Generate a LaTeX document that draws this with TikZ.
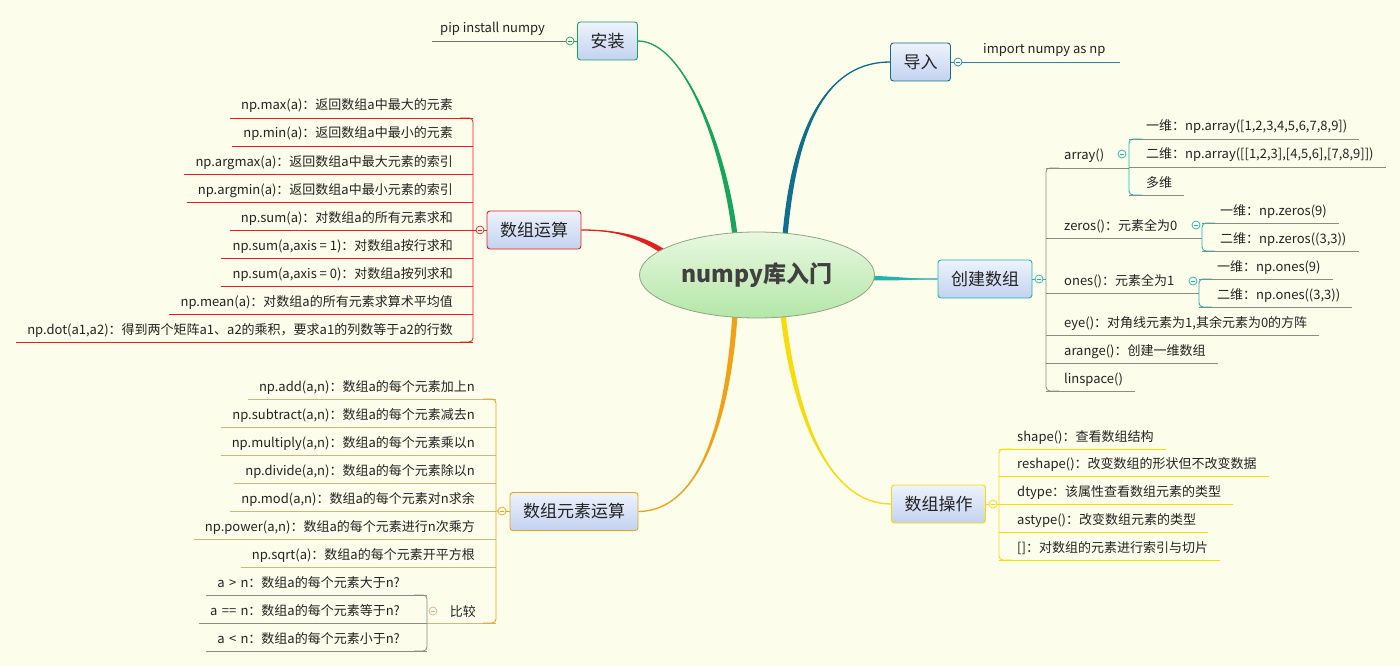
\documentclass[tikz,border=0pt]{standalone}
\usepackage{fontspec}
\setmainfont{Noto Sans CJK SC}
\usetikzlibrary{shapes.geometric,calc}
\definecolor{bg}{RGB}{253,253,235}
\definecolor{boxtop}{RGB}{238,243,252}
\definecolor{boxbot}{RGB}{194,210,240}
\definecolor{txt}{RGB}{35,35,35}
\definecolor{greenc}{RGB}{22,165,90}
\definecolor{tealblue}{RGB}{16,112,140}
\definecolor{impc}{RGB}{30,140,180}
\definecolor{redc}{RGB}{230,30,30}
\definecolor{orangec}{RGB}{242,160,20}
\definecolor{orlc}{RGB}{215,180,120}
\definecolor{tealc}{RGB}{30,180,175}
\definecolor{yellowc}{RGB}{248,220,10}
\definecolor{grayc}{RGB}{140,140,130}
\definecolor{elltop}{RGB}{232,248,224}
\definecolor{ellbot}{RGB}{180,230,168}
\definecolor{elldraw}{RGB}{140,165,130}
\definecolor{centtxt}{RGB}{64,64,64}
\tikzset{
  itemtext/.style={font=\fontsize{13}{15}\selectfont, text=txt, inner ysep=0pt},
  topic/.style={draw=#1, rounded corners=3pt, top color=boxtop, bottom color=boxbot,
    line width=0.9pt, minimum height=38pt, inner xsep=13pt, inner ysep=0pt,
    font=\fontsize{17}{20}\selectfont, text=txt},
  tog/.style={circle, draw=#1, fill=bg, minimum size=8pt, inner sep=0pt, line width=0.7pt,
    path picture={\draw[#1,line width=0.7pt] ($(path picture bounding box.center)+(-2.2,0)$) -- ($(path picture bounding box.center)+(2.2,0)$);}},
  redl/.style={draw=redc, line width=0.8pt},
  orl/.style={draw=orlc, line width=0.8pt},
  orv/.style={draw=orangec, line width=0.9pt},
  grl/.style={draw=grayc, line width=0.8pt},
  tealv/.style={draw=tealc, line width=0.9pt},
  yel/.style={draw=yellowc, line width=0.9pt},
  impl/.style={draw=impc, line width=0.9pt},
}
% left item: name, text right x, line y, bracket x, line style, text
\newcommand\Litem[6]{%
  \node[itemtext,anchor=base east,inner xsep=11pt] (#1) at (#2+11,#3-8) {#6};
  \coordinate (tmp) at (0,#3);
  \draw[#5] (#1.west |- tmp) -- (#4,#3);
}
% right item: name, text left x, line y, bracket x, line style, text
\newcommand\Ritem[6]{%
  \node[itemtext,anchor=base west,inner xsep=12pt] (#1) at (#2-12,#3-8) {#6};
  \coordinate (tmp) at (0,#3);
  \draw[#5] (#4,#3) -- (#1.east |- tmp);
}
% parent item: name, text left x, line y, bracket x, line style, end x, text
\newcommand\Pitem[7]{%
  \node[itemtext,anchor=base west,inner xsep=12pt] (#1) at (#2-12,#3-8) {#7};
  \draw[#5] (#4,#3) -- (#6,#3);
}
\newcommand\taper[6]{%
  \fill[#1] ($(#2)+(#6)$) .. controls ($(#3)+(#6)$) and (#4) .. (#5)
     .. controls (#4) and ($(#3)-(#6)$) .. ($(#2)-(#6)$) -- cycle;
  \draw[#1,line width=1.3pt] (#2) .. controls (#3) and (#4) .. (#5);
}
\begin{document}
\begin{tikzpicture}[x=1pt,y=-1pt]
\fill[bg] (0,0) rectangle (1400,666);
\useasboundingbox (0,0) rectangle (1400,666);

% topic boxes
\node[topic=greenc] (az) at (607.5,41) {安装};
\node[topic=tealblue] (dr) at (920.5,62) {导入};
\node[topic=redc] (ys) at (534,230) {数组运算};
\node[topic=orangec] (yu) at (574,511.5) {数组元素运算};
\node[topic=tealc] (cj) at (985,279) {创建数组};
\node[topic=yellowc] (cz) at (938.5,504) {数组操作};

% connectors from the centre
\coordinate (r1) at (735,236);
\coordinate (r2) at (785,236);
\coordinate (r3) at (664,252);
\coordinate (r4) at (872,278);
\coordinate (r5) at (735,314);
\coordinate (r6) at (783,314);
\taper{greenc}{r1}{725,150}{685,41}{az.east}{2.6,0}
\taper{tealblue}{r2}{795,120}{830,62}{dr.west}{2.6,0}
\taper{redc}{r3}{640,236}{615,230}{ys.east}{1.4,-2.1}
\taper{tealc}{r4}{900,279}{915,279}{cj.west}{0,2.2}
\taper{orangec}{r5}{728,420}{700,511}{yu.east}{2.6,0}
\taper{yellowc}{r6}{795,420}{830,504}{cz.west}{2.6,0}

% centre
\node[ellipse, minimum width=235pt, minimum height=86pt, inner sep=0pt, draw=elldraw,
  line width=0.8pt, top color=elltop, bottom color=ellbot, text=centtxt,
  font=\fontsize{23}{27}\selectfont\bfseries] (c) at (757,275) {numpy库入门};

% 安装
\node[itemtext,anchor=base west,inner xsep=0pt] (pip) at (440,33) {pip install numpy};
\coordinate (pipend) at (432,41);
\draw[grl,draw={rgb,255:red,110;green,115;blue,110}] (pipend) -- (az.west);
\node[tog=greenc] (t0) at (570,41) {};

% 导入
\node[itemtext,anchor=base west,inner xsep=0pt] (imp) at (983,54) {import numpy as np};
\coordinate (impend) at (1120,62);
\draw[impl] (dr.east) -- (impend);
\node[tog=impc] (t00) at (958,62) {};

% 数组运算
\Litem{m1}{453}{118}{473}{redl}{np.max(a)：返回数组a中最大的元素}
\Litem{m2}{453}{146}{473}{redl}{np.min(a)：返回数组a中最小的元素}
\Litem{m3}{453}{174}{473}{redl}{np.argmax(a)：返回数组a中最大元素的索引}
\Litem{m4}{453}{202}{473}{redl}{np.argmin(a)：返回数组a中最小元素的索引}
\Litem{m5}{453}{230}{473}{redl}{np.sum(a)：对数组a的所有元素求和}
\Litem{m6}{453}{258}{473}{redl}{np.sum(a,axis = 1)：对数组a按行求和}
\Litem{m7}{453}{286}{473}{redl}{np.sum(a,axis = 0)：对数组a按列求和}
\Litem{m8}{453}{314}{473}{redl}{np.mean(a)：对数组a的所有元素求算术平均值}
\Litem{m9}{453}{342}{473}{redl}{np.dot(a1,a2)：得到两个矩阵a1、a2的乘积，要求a1的列数等于a2的行数}
\draw[redl,rounded corners=4pt] (460,118) -- (473,118) -- (473,342) -- (460,342);
\coordinate (ysb) at (473,230);
\draw[redl] (ys.west) -- (ysb);
\node[tog=redc] (t1) at (480,230) {};

% 数组元素运算
\Litem{e1}{475}{399}{496}{orl}{np.add(a,n)：数组a的每个元素加上n}
\Litem{e2}{475}{427}{496}{orl}{np.subtract(a,n)：数组a的每个元素减去n}
\Litem{e3}{475}{455}{496}{orl}{np.multiply(a,n)：数组a的每个元素乘以n}
\Litem{e4}{475}{483}{496}{orl}{np.divide(a,n)：数组a的每个元素除以n}
\Litem{e5}{475}{511}{496}{orl}{np.mod(a,n)：数组a的每个元素对n求余}
\Litem{e6}{475}{539}{496}{orl}{np.power(a,n)：数组a的每个元素进行n次乘方}
\Litem{e7}{475}{567}{496}{orl}{np.sqrt(a)：数组a的每个元素开平方根}
\node[itemtext,anchor=base east,inner xsep=0pt] (bj) at (476,616) {比较};
\draw[orl] (427,623) -- (496,623);
\draw[orv,rounded corners=4pt] (483,399) -- (496,399) -- (496,623) -- (483,623);
\Litem{c1}{400}{595}{427}{grl}{a\,\,>\,\,n：数组a的每个元素大于n?}
\Litem{c2}{400}{623}{427}{grl}{a\,\,==\,\,n：数组a的每个元素等于n?}
\Litem{c3}{400}{651}{427}{grl}{a\,\,<\,\,n：数组a的每个元素小于n?}
\draw[grl,rounded corners=4pt] (414,595) -- (427,595) -- (427,651) -- (414,651);
\node[tog=orlc] (t2) at (433,611) {};
\coordinate (yub) at (496,511);
\draw[orv] (yu.west) -- (yub);
\node[tog=orangec] (t3) at (502,511) {};

% 创建数组
\Pitem{k1}{1064}{168}{1046}{grl}{1129}{array()}
\Pitem{k2}{1064}{238}{1046}{grl}{1202}{zeros()：元素全为0}
\Pitem{k3}{1064}{293}{1046}{grl}{1199}{ones()：元素全为1}
\Ritem{k4}{1064}{335}{1046}{grl}{eye()：对角线元素为1,其余元素为0的方阵}
\Ritem{k5}{1064}{363}{1046}{grl}{arange()：创建一维数组}
\Ritem{k6}{1064}{391}{1046}{grl}{linspace()}
\draw[grl,rounded corners=4pt] (1059,168) -- (1046,168) -- (1046,391) -- (1059,391);
\Ritem{a1}{1146}{139}{1129}{grl}{一维：np.array([1,2,3,4,5,6,7,8,9])}
\Ritem{a2}{1146}{167}{1129}{grl}{二维：np.array([[1,2,3],[4,5,6],[7,8,9]])}
\Ritem{a3}{1146}{195}{1129}{grl}{多维}
\draw[tealv,rounded corners=4pt] (1142,139) -- (1129,139) -- (1129,195) -- (1142,195);
\Ritem{z1}{1220}{223}{1202}{grl}{一维：np.zeros(9)}
\Ritem{z2}{1220}{251}{1202}{grl}{二维：np.zeros((3,3))}
\draw[tealv,rounded corners=4pt] (1215,223) -- (1202,223) -- (1202,251) -- (1215,251);
\Ritem{o1}{1217}{279}{1199}{grl}{一维：np.ones(9)}
\Ritem{o2}{1217}{307}{1199}{grl}{二维：np.ones((3,3))}
\draw[tealv,rounded corners=4pt] (1212,279) -- (1199,279) -- (1199,307) -- (1212,307);
\node[tog=tealc] (t4) at (1122,154) {};
\node[tog=tealc] (t5) at (1196,225) {};
\node[tog=tealc] (t6) at (1193,281) {};
\coordinate (cjb) at (1046,279);
\draw[tealv] (cj.east) -- (cjb);
\node[tog=tealc] (t7) at (1039,279) {};

% 数组操作
\Ritem{s1}{1017}{449}{999}{yel}{shape()：查看数组结构}
\Ritem{s2}{1017}{476}{999}{yel}{reshape()：改变数组的形状但不改变数据}
\Ritem{s3}{1017}{504}{999}{yel}{dtype：该属性查看数组元素的类型}
\Ritem{s4}{1017}{532}{999}{yel}{astype()：改变数组元素的类型}
\Ritem{s5}{1017}{560}{999}{yel}{[]：对数组的元素进行索引与切片}
\draw[yel,rounded corners=4pt] (1012,449) -- (999,449) -- (999,560) -- (1012,560);
\coordinate (czb) at (999,504);
\draw[yel] (cz.east) -- (czb);
\node[tog=yellowc] (t8) at (993,504) {};
\end{tikzpicture}
\end{document}
